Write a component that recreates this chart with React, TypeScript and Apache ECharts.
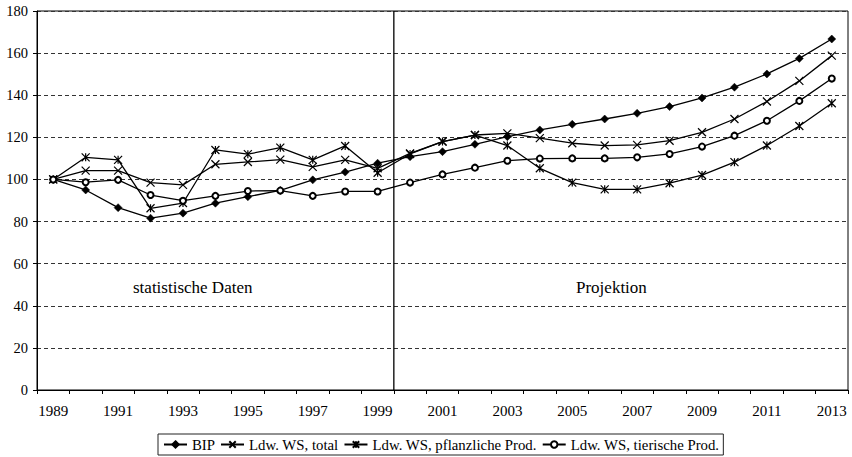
import React, { useEffect, useRef } from "react";
import * as echarts from "echarts";

const years = [
  "1989", "1990", "1991", "1992", "1993", "1994", "1995", "1996", "1997", "1998",
  "1999", "2000", "2001", "2002", "2003", "2004", "2005", "2006", "2007", "2008",
  "2009", "2010", "2011", "2012", "2013",
];

const bip = [
  100, 95, 86.6, 81.6, 84, 88.7, 91.8, 94.8, 99.8, 103.5,
  107.7, 110.8, 113.2, 116.7, 120.3, 123.5, 126.2, 128.7, 131.4, 134.6,
  138.7, 143.8, 150.1, 157.5, 166.7,
];

const wsTotal = [
  100, 104.2, 104.2, 98.5, 97.4, 107.2, 108.3, 109.4, 106, 109.3,
  105.3, 112.4, 118, 121.1, 121.9, 119.6, 117.2, 116.1, 116.4, 118.4,
  122.4, 128.7, 137, 146.8, 158.8,
];

const wsPflanz = [
  100, 110.5, 109.3, 86.3, 88.8, 114, 112, 115.1, 109.3, 115.9,
  103.2, 112.1, 118, 121.1, 116.1, 105.3, 98.5, 95.3, 95.3, 98.2,
  102.1, 108.2, 116.1, 125.4, 136.2,
];

const wsTier = [
  100, 98.7, 99.8, 92.6, 89.9, 92.2, 94.5, 94.7, 92.2, 94.3,
  94.3, 98.5, 102.4, 105.6, 108.9, 109.9, 110, 110, 110.5, 112.1,
  115.6, 120.8, 127.9, 137.3, 147.9,
];

const seriesNames = [
  "BIP",
  "Ldw. WS, total",
  "Ldw. WS, pflanzliche Prod.",
  "Ldw. WS, tierische Prod.",
];

// divider between statistical data and projection (between 1999 and 2000)
const dividerX = [1999.5, 1999.5];
const dividerY = [0, 180];

const regionLabels = ["statistische Daten", "Projektion"];

const FONT = "Liberation Serif";
const CROSS = "path://M0,0L10,10M10,0L0,10";
const STAR = "path://M0,0L10,10M10,0L0,10M5,0L5,10";

export default function App() {
  const ref = useRef<HTMLDivElement>(null);

  useEffect(() => {
    if (!ref.current) return;
    const chart = echarts.init(ref.current, undefined, { renderer: "svg" });

    const lineBase = {
      type: "line" as const,
      xAxisIndex: 0,
      yAxisIndex: 0,
      lineStyle: { color: "#000", width: 1.3 },
      itemStyle: { color: "#000", borderColor: "#000", borderWidth: 1.2 },
      emphasis: { disabled: true },
    };

    chart.setOption({
      animation: false,
      backgroundColor: "#fff",
      textStyle: { fontFamily: FONT, color: "#000" },
      grid: {
        left: 37,
        right: 4,
        top: 11,
        bottom: 67,
        show: true,
        borderColor: "#000",
        borderWidth: 1,
      },
      legend: {
        left: 158,
        top: 434,
        padding: [3, 4, 3, 5],
        itemGap: 5,
        itemWidth: 23,
        itemHeight: 8,
        borderColor: "#222",
        borderWidth: 1,
        borderRadius: 0,
        data: seriesNames,
        textStyle: { fontFamily: FONT, fontSize: 14.8, color: "#000" },
      },
      xAxis: [
        {
          type: "category",
          data: years,
          boundaryGap: true,
          axisLine: { show: true, lineStyle: { color: "#000", width: 1 } },
          axisTick: { show: true, interval: 0, length: 4, lineStyle: { color: "#000" } },
          axisLabel: {
            interval: 1,
            margin: 13,
            fontFamily: FONT,
            fontSize: 15,
            color: "#000",
          },
          splitLine: { show: false },
        },
        {
          type: "value",
          min: 1988.5,
          max: 2013.5,
          show: false,
          splitLine: { show: false },
        },
      ],
      yAxis: {
        type: "value",
        min: 0,
        max: 180,
        interval: 20,
        axisLine: { show: true, lineStyle: { color: "#000", width: 1 } },
        axisTick: { show: true, length: 4, lineStyle: { color: "#000" } },
        axisLabel: { margin: 9, fontFamily: FONT, fontSize: 14.5, color: "#000" },
        splitLine: {
          show: true,
          lineStyle: { color: "#333", width: 1, type: [4, 3] },
        },
      },
      graphic: [
        {
          type: "text",
          left: 133,
          top: 279,
          style: { text: regionLabels[0], fontFamily: FONT, fontSize: 17, fill: "#000" },
        },
        {
          type: "text",
          left: 576,
          top: 279,
          style: { text: regionLabels[1], fontFamily: FONT, fontSize: 17, fill: "#000" },
        },
      ],
      series: [
        {
          ...lineBase,
          name: seriesNames[0],
          data: bip,
          symbol: "diamond",
          symbolSize: 8,
          itemStyle: { color: "#000", borderColor: "#000", borderWidth: 0.5 },
        },
        {
          ...lineBase,
          name: seriesNames[1],
          data: wsTotal,
          symbol: CROSS,
          symbolSize: 8,
        },
        {
          ...lineBase,
          name: seriesNames[2],
          data: wsPflanz,
          symbol: STAR,
          symbolSize: 8,
        },
        {
          ...lineBase,
          name: seriesNames[3],
          data: wsTier,
          symbol: "emptyCircle",
          symbolSize: 6,
          itemStyle: { color: "#000", borderColor: "#000", borderWidth: 1.2 },
        },
        {
          type: "line",
          xAxisIndex: 1,
          yAxisIndex: 0,
          data: dividerX.map((x, i) => [x, dividerY[i]]),
          symbol: "none",
          silent: true,
          lineStyle: { color: "#000", width: 1.3 },
          emphasis: { disabled: true },
          z: 1,
        },
      ],
    });

    return () => chart.dispose();
  }, []);

  return (
    <div
      ref={ref}
      style={{ position: "absolute", left: 0, top: 0, width: 852, height: 457 }}
    />
  );
}
